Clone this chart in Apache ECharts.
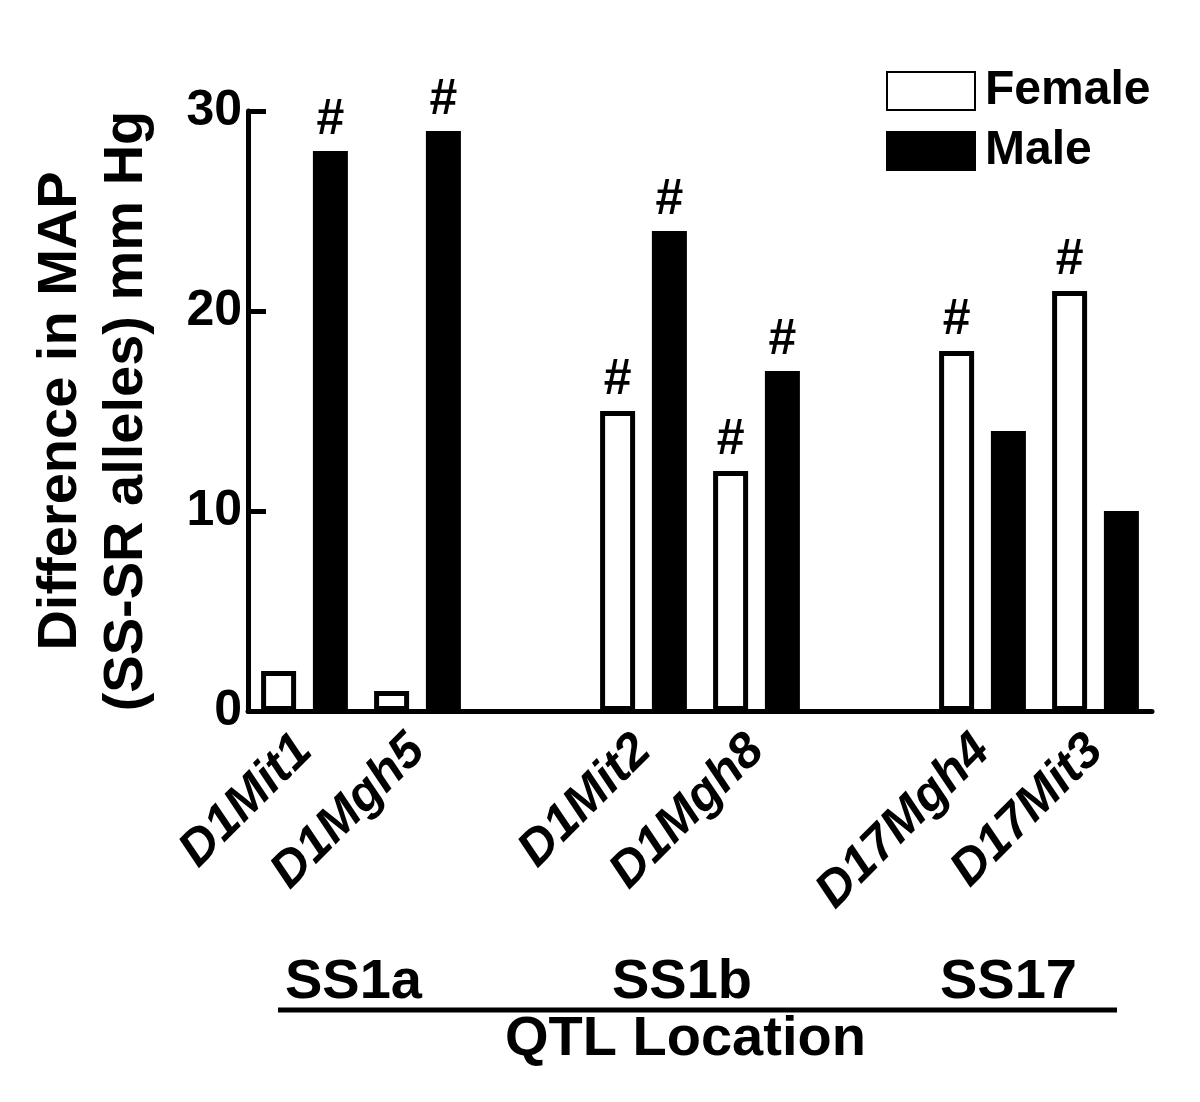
<!DOCTYPE html>
<html>
<head>
<meta charset="utf-8">
<script src="https://cdn.jsdelivr.net/npm/echarts@6/dist/echarts.min.js"></script>
<style>
html,body{margin:0;padding:0;background:#fff;}
#main{width:1200px;height:1102px;}
</style>
</head>
<body>
<div id="main"></div>
<script>
// ---- data ----
var categories = ['D1Mit1', 'D1Mgh5', '', 'D1Mit2', 'D1Mgh8', '', 'D17Mgh4', 'D17Mit3'];
var femaleValues = [2, 1, null, 15, 12, null, 18, 21];
var maleValues   = [28, 29, null, 24, 17, null, 14, 10];
var femaleSignif = [false, false, false, true, true, false, true, true];
var maleSignif   = [true, true, false, true, true, false, false, false];
var groupLabels  = ['SS1a', 'SS1b', 'SS17'];
var yTicks = [0, 10, 20, 30];

var FONT = "'Liberation Sans', Arial, Helvetica, sans-serif";

var chart = echarts.init(document.getElementById('main'), null, {renderer: 'canvas'});

function labelFor(signif) {
  return {
    show: true,
    position: 'top',
    distance: 6,
    color: '#000',
    fontFamily: FONT,
    fontWeight: 'bold',
    fontSize: 50,
    formatter: function (p) { return signif[p.dataIndex] ? '#' : ''; }
  };
}

var option = {
  backgroundColor: '#fff',
  animation: false,
  grid: {left: 248, right: 48, top: 111, bottom: 391, containLabel: false},
  legend: {
    orient: 'vertical',
    left: 881,
    top: 62,
    icon: 'rect',
    itemWidth: 88,
    itemHeight: 38,
    itemGap: 12,
    selectedMode: false,
    textStyle: {
      fontFamily: FONT, fontWeight: 'bold', fontSize: 48, color: '#000',
      lineHeight: 48, padding: [0, 0, 0, 5]
    },
    data: ['Female', 'Male']
  },
  xAxis: {
    type: 'category',
    data: categories,
    boundaryGap: true,
    axisLine: {show: true, onZero: false, lineStyle: {color: '#000', width: 5}},
    axisTick: {show: false},
    axisLabel: {
      interval: 0,
      rotate: 45,
      margin: 32,
      color: '#000',
      fontFamily: FONT,
      fontWeight: 'bold',
      fontStyle: 'italic',
      fontSize: 50
    },
    splitLine: {show: false}
  },
  yAxis: {
    type: 'value',
    min: yTicks[0],
    max: yTicks[yTicks.length - 1],
    interval: yTicks[1] - yTicks[0],
    name: 'Difference in MAP\n(SS-SR alleles) mm Hg',
    nameLocation: 'middle',
    nameRotate: 90,
    nameGap: 88,
    nameTextStyle: {
      fontFamily: FONT, fontWeight: 'bold', fontSize: 56, color: '#000', lineHeight: 66
    },
    axisLine: {show: true, lineStyle: {color: '#000', width: 5}},
    axisTick: {show: true, inside: true, length: 18, lineStyle: {color: '#000', width: 5}},
    axisLabel: {
      margin: 6,
      color: '#000',
      fontFamily: FONT,
      fontWeight: 'bold',
      fontSize: 50
    },
    splitLine: {show: false}
  },
  series: [
    {
      name: 'Female',
      type: 'bar',
      data: femaleValues,
      barWidth: 35,
      barGap: '48%',
      itemStyle: {color: '#fff', borderColor: '#000', borderWidth: 5},
      label: labelFor(femaleSignif)
    },
    {
      name: 'Male',
      type: 'bar',
      data: maleValues,
      barWidth: 35,
      itemStyle: {color: '#000', borderColor: '#000', borderWidth: 5},
      label: labelFor(maleSignif)
    }
  ],
  graphic: [
    {type: 'text', left: 285, top: 955, style: {text: groupLabels[0], font: 'bold 56px ' + FONT, fill: '#000'}},
    {type: 'text', left: 612, top: 955, style: {text: groupLabels[1], font: 'bold 56px ' + FONT, fill: '#000'}},
    {type: 'text', left: 940, top: 955, style: {text: groupLabels[2], font: 'bold 56px ' + FONT, fill: '#000'}},
    {type: 'line', shape: {x1: 278, y1: 1010, x2: 1117, y2: 1010}, style: {stroke: '#000', lineWidth: 5}},
    {type: 'text', left: 505, top: 1012, style: {text: 'QTL Location', font: 'bold 56px ' + FONT, fill: '#000'}}
  ]
};

chart.setOption(option);
</script>
</body>
</html>
